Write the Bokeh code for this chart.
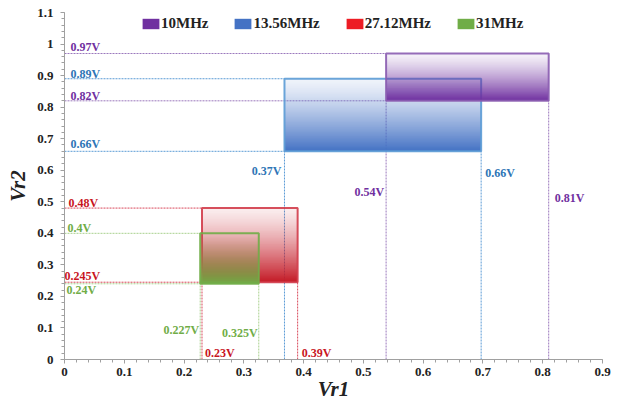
import numpy as np
from bokeh.plotting import figure
from bokeh.models import ColumnDataSource, FixedTicker, Legend, LegendItem
from bokeh.core.properties import value
from bokeh.embed import file_html
from bokeh.resources import INLINE

# ---------------- data ----------------
series = ["10MHz", "13.56MHz", "27.12MHz", "31MHz"]
vr1_low = [0.538, 0.368, 0.23, 0.227]
vr1_high = [0.81, 0.697, 0.39, 0.325]
vr2_low = [0.82, 0.66, 0.245, 0.24]
vr2_high = [0.97, 0.89, 0.48, 0.40]
vr1_low_text = ["0.54V", "0.37V", "0.23V", "0.227V"]
vr1_high_text = ["0.81V", "0.66V", "0.39V", "0.325V"]
vr2_low_text = ["0.82V", "0.66V", "0.245V", "0.24V"]
vr2_high_text = ["0.97V", "0.89V", "0.48V", "0.4V"]

x_ticks = [0, 0.1, 0.2, 0.3, 0.4, 0.5, 0.6, 0.7, 0.8, 0.9]
x_tick_labels = ["0", "0.1", "0.2", "0.3", "0.4", "0.5", "0.6", "0.7", "0.8", "0.9"]
y_ticks = [0, 0.1, 0.2, 0.3, 0.4, 0.5, 0.6, 0.7, 0.8, 0.9, 1.0, 1.1]
y_tick_labels = ["0", "0.1", "0.2", "0.3", "0.4", "0.5", "0.6", "0.7", "0.8", "0.9", "1", "1.1"]

# ---------------- styles ----------------
FONT = value("Liberation Serif")
fill_rgb = [(0x70, 0x30, 0xa0), (0x44, 0x72, 0xc4), (0xc4, 0x1a, 0x26), (0x70, 0xad, 0x47)]
edge_colors = ["#8a5cb0", "#5b9bd5", "#d23c4a", "#70ad47"]
ref_colors = ["#9b78bd", "#5b9bd5", "#d9475a", "#a9d18e"]
text_colors = ["#7030a0", "#2e75b6", "#c8141e", "#70ad47"]
legend_colors = ["#7030a0", "#4472c4", "#ed1c24", "#70ad47"]
top_alpha = [0.06, 0.08, 0.08, 0.0]
draw_order = [1, 0, 2, 3]

# label layout offsets (pixels)
yhi_off = [(6, -7), (6, -5), (4, -5), (3, -5)]
ylo_off = [(6, -5), (6, -7), (0, -6), (2, 6)]
xlo_off = [(-2, 91, "right"), (-3, 20, "right"), (3, 71, "left"), (-1, 46, "right")]
xhi_off = [(6, 97, "left"), (4, 22, "left"), (4, 71, "left"), (-1, 49, "right")]

p = figure(width=622, height=404, output_backend="svg", toolbar_location=None,
           x_range=(0, 0.9), y_range=(0, 1.1),
           min_border_left=64, min_border_right=20, min_border_top=12, min_border_bottom=45)
p.outline_line_color = None
p.xgrid.visible = False
p.ygrid.visible = False
p.background_fill_color = "white"

# axes
p.xaxis.ticker = FixedTicker(ticks=x_ticks, minor_ticks=list(np.round(np.arange(0, 0.9001, 0.02), 4)))
p.yaxis.ticker = FixedTicker(ticks=y_ticks, minor_ticks=list(np.round(np.arange(0, 1.1001, 0.02), 4)))
p.xaxis.major_label_overrides = {t: l for t, l in zip(x_ticks, x_tick_labels)}
p.yaxis.major_label_overrides = {t: l for t, l in zip(y_ticks, y_tick_labels)}
for ax in (p.xaxis, p.yaxis):
    ax.axis_line_color = "#a0a0a0"
    ax.major_tick_line_color = "#a0a0a0"
    ax.minor_tick_line_color = "#a0a0a0"
    ax.major_tick_out = 4
    ax.major_tick_in = 0
    ax.minor_tick_out = 3
    ax.minor_tick_in = 0
    ax.major_label_text_font = "Liberation Serif"
    ax.major_label_text_font_style = "bold"
    ax.major_label_text_font_size = "13px"
    ax.major_label_text_color = "#222222"
    ax.axis_label_text_font = "Liberation Serif"
    ax.axis_label_text_font_style = "bold italic"
    ax.axis_label_text_font_size = "21px"
    ax.axis_label_text_color = "#222222"
p.xaxis.major_label_standoff = 4
p.yaxis.major_label_standoff = 7
p.xaxis.axis_label = "Vr1"
p.yaxis.axis_label = "Vr2"
p.xaxis.axis_label_standoff = -2
p.yaxis.axis_label_standoff = 4

# reference lines
hx0, hx1, hy, hc = [], [], [], []
vx, vy0, vy1, vc = [], [], [], []
for i in range(4):
    for yv in (vr2_high[i], vr2_low[i]):
        hx0.append(0); hx1.append(vr1_low[i]); hy.append(yv); hc.append(ref_colors[i])
    for xv in (vr1_low[i], vr1_high[i]):
        vx.append(xv); vy0.append(0); vy1.append(vr2_low[i]); vc.append(ref_colors[i])
p.segment(x0=hx0, x1=hx1, y0=hy, y1=hy, line_color=hc, line_width=1, line_dash="2 1")
p.segment(x0=vx, x1=vx, y0=vy0, y1=vy1, line_color=vc, line_width=1, line_dash="2 1")

# gradient rectangles (vertical alpha ramp rendered as an RGBA image)
N = 160
for i in draw_order:
    img = np.zeros((N, 2), dtype=np.uint32)
    view = img.view(dtype=np.uint8).reshape((N, 2, 4))
    frac_from_top = 1 - (np.arange(N) + 0.5) / N   # row 0 is the bottom
    alphas = top_alpha[i] + (1 - top_alpha[i]) * frac_from_top ** 1.3
    r, g, b = fill_rgb[i]
    view[:, :, 0] = r
    view[:, :, 1] = g
    view[:, :, 2] = b
    view[:, :, 3] = np.round(alphas * 255).astype(np.uint8)[:, None]
    p.image_rgba(image=[img], x=vr1_low[i], y=vr2_low[i],
                 dw=vr1_high[i] - vr1_low[i], dh=vr2_high[i] - vr2_low[i])
    p.quad(left=[vr1_low[i]], right=[vr1_high[i]], top=[vr2_high[i]], bottom=[vr2_low[i]],
           fill_color=None, line_color=edge_colors[i], line_width=2, line_alpha=0.9)

# value labels
tx, ty, tt, tc, txo, tyo, tal = [], [], [], [], [], [], []
for i in range(4):
    tx += [0, 0, vr1_low[i], vr1_high[i]]
    ty += [vr2_high[i], vr2_low[i], vr2_low[i], vr2_low[i]]
    tt += [vr2_high_text[i], vr2_low_text[i], vr1_low_text[i], vr1_high_text[i]]
    tc += [text_colors[i]] * 4
    txo += [yhi_off[i][0], ylo_off[i][0], xlo_off[i][0], xhi_off[i][0]]
    tyo += [yhi_off[i][1], ylo_off[i][1], xlo_off[i][1], xhi_off[i][1]]
    tal += ["left", "left", xlo_off[i][2], xhi_off[i][2]]
src = ColumnDataSource(dict(x=tx, y=ty, t=tt, c=tc, xo=txo, yo=tyo, al=tal))
p.text(x="x", y="y", text="t", source=src, text_color="c", x_offset="xo", y_offset="yo",
       text_align="al", text_baseline="alphabetic", text_font=FONT,
       text_font_style="bold", text_font_size="12px")

# legend
items = []
for i in range(4):
    r = p.quad(left=[np.nan], right=[np.nan], top=[np.nan], bottom=[np.nan],
               fill_color=legend_colors[i], line_color=None)
    items.append(LegendItem(label=series[i], renderers=[r]))
legend = Legend(items=items, orientation="horizontal", location=(76, 327),
                glyph_width=21, glyph_height=13, label_height=13, label_standoff=0,
                spacing=24, padding=0, margin=0, border_line_color=None,
                background_fill_alpha=0, label_text_font="Liberation Serif",
                label_text_font_style="bold", label_text_font_size="15px",
                label_text_color="#222222")
p.add_layout(legend)

open("out.html", "w").write(file_html(p, INLINE))
